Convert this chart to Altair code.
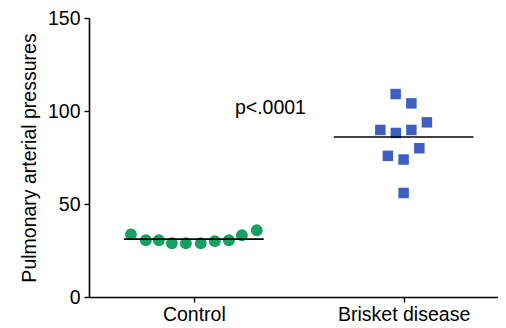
import altair as alt
import pandas as pd

groups = ["Control", "Brisket disease"]
centers = [0.5, 1.5]

control_vals = [33.7, 30.5, 30.5, 28.9, 28.9, 28.9, 30.0, 30.5, 33.2, 35.9]
control_off = [-0.30, -0.229, -0.167, -0.105, -0.038, 0.033, 0.10, 0.167, 0.229, 0.30]

brisket_vals = [109.1, 104.1, 93.9, 89.8, 88.2, 89.8, 80.0, 75.9, 73.9, 55.9]
brisket_off = [-0.038, 0.037, 0.111, -0.111, -0.037, 0.037, 0.075, -0.075, 0.0, 0.0]

p_label = "p<.0001"
p_pos = [0.865, 101.8]

FONT = "Liberation Sans"

ctrl = pd.DataFrame({"x": [centers[0] + o for o in control_off], "y": control_vals})
bris = pd.DataFrame({"x": [centers[1] + o for o in brisket_off], "y": brisket_vals})
means = pd.DataFrame({
    "x": [c - 0.333 for c in centers],
    "x2": [c + 0.333 for c in centers],
    "y": [sum(control_vals) / len(control_vals), sum(brisket_vals) / len(brisket_vals)],
})
ptxt = pd.DataFrame({"x": [p_pos[0]], "y": [p_pos[1]], "t": [p_label]})

xscale = alt.Scale(domain=[0, 1.95], nice=False, zero=False)
yscale = alt.Scale(domain=[0, 150], nice=False)

xaxis = alt.Axis(values=centers, grid=False, title=None,
                 labelExpr="datum.value == 0.5 ? 'Control' : 'Brisket disease'",
                 labelFontSize=19.5, labelFont=FONT, labelColor="black", labelPadding=3,
                 domainColor="black", domainWidth=1.6, tickColor="black", tickWidth=1.4, tickSize=5)
yaxis = alt.Axis(values=[0, 50, 100, 150], grid=False, title="Pulmonary arterial pressures",
                 titleFontSize=19.5, titleFont=FONT, titleFontWeight="normal", titleColor="black",
                 titlePadding=8, labelFontSize=19.5, labelFont=FONT, labelColor="black", labelPadding=4,
                 domainColor="black", domainWidth=1.6, tickColor="black", tickWidth=1.4, tickSize=5)

base_c = alt.Chart(ctrl).mark_circle(size=140, color="#17a062", opacity=1).encode(
    x=alt.X("x:Q", scale=xscale, axis=xaxis),
    y=alt.Y("y:Q", scale=yscale, axis=yaxis),
)
base_b = alt.Chart(bris).mark_square(size=110, color="#3f5fc0", opacity=1).encode(
    x=alt.X("x:Q", scale=xscale),
    y=alt.Y("y:Q", scale=yscale),
)
rules = alt.Chart(means).mark_rule(color="black", strokeWidth=1.6).encode(
    x=alt.X("x:Q", scale=xscale), x2="x2:Q", y=alt.Y("y:Q", scale=yscale)
)
text = alt.Chart(ptxt).mark_text(font=FONT, fontSize=19.5, color="black").encode(
    x=alt.X("x:Q", scale=xscale), y=alt.Y("y:Q", scale=yscale), text="t:N"
)

chart = alt.layer(base_c, base_b, rules, text).properties(
    width=409, height=279,
    autosize=alt.AutoSizeParams(type="none"),
    padding={"left": 81, "top": 10, "right": 0, "bottom": 31},
).configure_view(stroke=None)

chart.save("out.html", embed_options={"renderer": "svg", "actions": False})
